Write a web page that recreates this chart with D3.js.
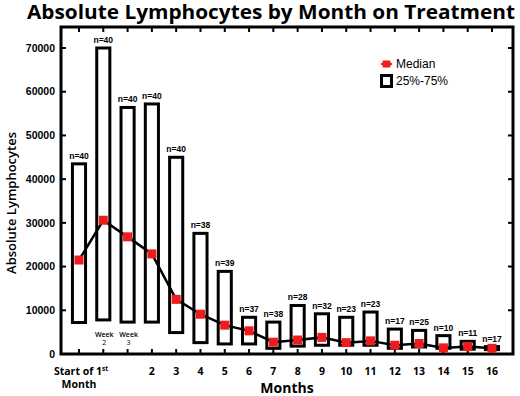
<!DOCTYPE html>
<html><head><meta charset="utf-8">
<script src="https://cdn.jsdelivr.net/npm/d3@7"></script>
<style>body{margin:0;background:#fff}svg{display:block}</style>
</head><body><svg id="c" width="520" height="396"></svg>
<script>
const categories = ["start","week2","week3","2","3","4","5","6","7","8","9","10","11","12","13","14","15","16"];
const tickLabels = ["Start of 1st","","","2","3","4","5","6","7","8","9","10","11","12","13","14","15","16"];
const q1 =     [7200, 7800, 7300, 7300, 4900, 2600, 2300, 2300, 1300, 1800, 2000, 2000, 2000, 1300, 1600, 1300, 1100, 1000];
const q3 =     [43500,70000,56400,57200,45000,27600,18900,8400, 7300, 11100,9200, 8400, 9600, 5700, 5400, 4200, 2900, 1700];
const median = [21500,30600,26800,22900,12500,9100, 6600, 5300, 2700, 3200, 3800, 2600, 3000, 2000, 2400, 1400, 1700, 1300];
const nLabels = ["n=40","n=40","n=40","n=40","n=40","n=38","n=39","n=37","n=38","n=28","n=32","n=23","n=23","n=17","n=25","n=10","n=11","n=17"];
const yTicks = [0,10000,20000,30000,40000,50000,60000,70000];

const svg = d3.select("#c");
const L=61, R=513, T=27, B=354;
const x = d3.scalePoint().domain(categories).range([79, 492]);
const y = d3.scaleLinear().domain([0,70000]).range([354, 48]);
const bw = x.step()*0.54;

// title
svg.append("text").attr("x",271).attr("y",18.5).attr("text-anchor","middle")
  .attr("font-family","Open Sans").attr("font-weight","bold").attr("font-size",20)
  .attr("textLength",488).attr("lengthAdjust","spacingAndGlyphs")
  .text("Absolute Lymphocytes by Month on Treatment");

// frame
svg.append("rect").attr("x",L).attr("y",T).attr("width",R-L).attr("height",B-T)
  .attr("fill","none").attr("stroke","#000").attr("stroke-width",3);

// ticks bottom/top
const tg = svg.append("g").attr("stroke","#000").attr("stroke-width",2);
categories.forEach(c=>{
  tg.append("line").attr("x1",x(c)).attr("x2",x(c)).attr("y1",B).attr("y2",B-5);
  tg.append("line").attr("x1",x(c)).attr("x2",x(c)).attr("y1",T).attr("y2",T+5);
});
yTicks.forEach(v=>{
  if(v===0) return;
  tg.append("line").attr("x1",R).attr("x2",R-5).attr("y1",y(v)).attr("y2",y(v));
  tg.append("line").attr("x1",L).attr("x2",L+5).attr("y1",y(v)).attr("y2",y(v));
});

// y tick labels
svg.append("g").selectAll("text").data(yTicks).join("text")
  .attr("x",55).attr("y",d=>y(d)).attr("dy","0.35em").attr("text-anchor","end")
  .attr("font-family","Liberation Sans").attr("font-weight","bold").attr("font-size",10.5)
  .text(d=>d);

// y axis title
svg.append("text").attr("transform","translate(16,203) rotate(-90)").attr("text-anchor","middle")
  .attr("font-family","Open Sans").attr("font-weight",600).attr("font-size",13)
  .text("Absolute Lymphocytes");

// x tick labels
const xl = svg.append("g").attr("font-family","Open Sans").attr("font-weight","bold").attr("font-size",10.5);
categories.forEach((c,i)=>{
  if(i===0){
    const t = xl.append("text").attr("x",x(c)+2).attr("y",375).attr("text-anchor","middle");
    t.append("tspan").text("Start of 1");
    t.append("tspan").attr("dy",-4).attr("font-size",6.5).text("st");
    xl.append("text").attr("x",x(c)).attr("y",388).attr("text-anchor","middle").text("Month");
  } else if(tickLabels[i]) {
    xl.append("text").attr("x",x(c)).attr("y",375).attr("text-anchor","middle").text(tickLabels[i]);
  }
});
// week labels
[["week2","2"],["week3","3"]].forEach(([c,n])=>{
  svg.append("text").attr("x",x(c)+1).attr("y",337).attr("text-anchor","middle")
    .attr("font-family","Open Sans").attr("font-weight",600).attr("font-size",7).text("Week");
  svg.append("text").attr("x",x(c)+1).attr("y",345).attr("text-anchor","middle")
    .attr("font-family","Open Sans").attr("font-size",7).text(n);
});

// x axis title
svg.append("text").attr("x",287).attr("y",393).attr("text-anchor","middle")
  .attr("font-family","Open Sans").attr("font-weight","bold").attr("font-size",14).text("Months");

// boxes
svg.append("g").selectAll("rect").data(categories).join("rect")
  .attr("x",c=>x(c)-bw/2).attr("width",bw)
  .attr("y",(c,i)=>y(q3[i])).attr("height",(c,i)=>y(q1[i])-y(q3[i]))
  .attr("fill","none").attr("stroke","#000").attr("stroke-width",3);

// n labels
svg.append("g").selectAll("text").data(categories).join("text")
  .attr("x",c=>x(c)).attr("y",(c,i)=>y(q3[i])-5).attr("text-anchor","middle")
  .attr("font-family","Liberation Sans").attr("font-weight","bold").attr("font-size",8.5)
  .text((c,i)=>nLabels[i]);

// median line
const line = d3.line().x((d,i)=>x(categories[i])).y(d=>y(d));
svg.append("path").datum(median).attr("d",line).attr("fill","none").attr("stroke","#000").attr("stroke-width",2.5);
svg.append("g").selectAll("rect").data(median).join("rect")
  .attr("x",(d,i)=>x(categories[i])-4.5).attr("y",d=>y(d)-4.5).attr("width",9).attr("height",9)
  .attr("fill","#ee1c1c");

// legend
svg.append("line").attr("x1",381).attr("x2",392).attr("y1",64).attr("y2",64).attr("stroke","#ee1c1c").attr("stroke-width",2);
svg.append("rect").attr("x",382.5).attr("y",60.5).attr("width",8).attr("height",7).attr("fill","#ee1c1c").attr("rx",1);
svg.append("text").attr("x",396).attr("y",68).attr("font-family","Liberation Sans").attr("font-size",12).text("Median");
svg.append("rect").attr("x",381.5).attr("y",75.5).attr("width",10).attr("height",11).attr("fill","none").attr("stroke","#000").attr("stroke-width",3);
svg.append("text").attr("x",396).attr("y",85).attr("font-family","Liberation Sans").attr("font-size",12).text("25%-75%");
</script></body></html>
